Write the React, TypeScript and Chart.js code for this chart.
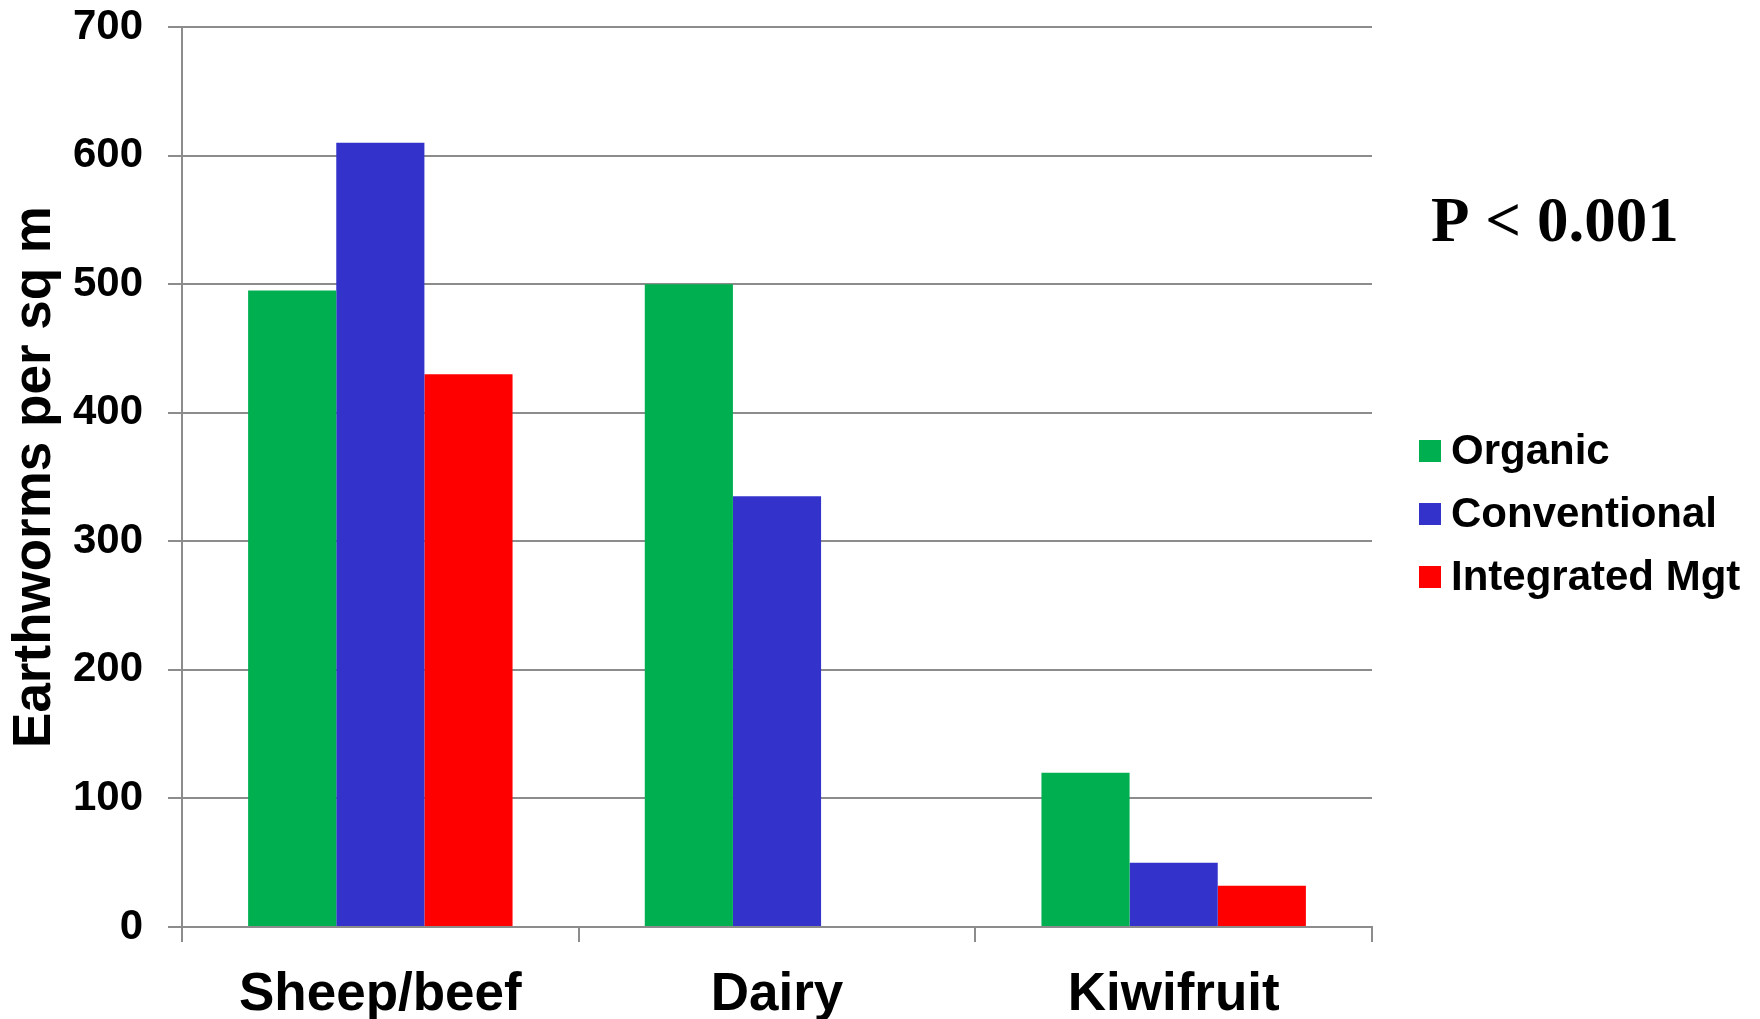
import React, { useEffect, useRef } from "react";
import { Chart, registerables } from "chart.js";

Chart.register(...registerables);

// Earthworm counts by farm type and management system
const categories = ["Sheep/beef", "Dairy", "Kiwifruit"];
const seriesNames = ["Organic", "Conventional", "Integrated Mgt"];
const organic = [495, 500, 120];
const conventional = [610, 335, 50];
const integratedMgt: (number | null)[] = [430, null, 32];
const seriesColors = ["#00B050", "#3333CC", "#FF0000"];
const yMin = 0;
const yMax = 700;
const yStep = 100;
const yTitle = "Earthworms per sq m";
const pValueText = "P < 0.001";

const SANS = '"Liberation Sans", Arial, sans-serif';
const SERIF = '"Liberation Serif", "Times New Roman", serif';
const GRID = "#8c8c8c";

// Draws the legend and the significance note in the right-hand margin
const sideNotes = {
  id: "sideNotes",
  afterDraw(chart: any) {
    const ctx = chart.ctx as CanvasRenderingContext2D;
    ctx.save();
    ctx.fillStyle = "#000";
    ctx.font = `bold 63px ${SERIF}`;
    ctx.textAlign = "left";
    ctx.textBaseline = "alphabetic";
    ctx.fillText(pValueText, 1431, 241);

    const boxX = 1419;
    const box = 22;
    const firstY = 451;
    const rowGap = 63;
    ctx.font = `bold 42px ${SANS}`;
    ctx.textBaseline = "middle";
    chart.data.datasets.forEach((ds: any, i: number) => {
      const cy = firstY + i * rowGap;
      ctx.fillStyle = ds.backgroundColor;
      ctx.fillRect(boxX, cy - box / 2, box, box);
      ctx.fillStyle = "#000";
      ctx.fillText(ds.label, 1451, cy + 1);
    });
    ctx.restore();
  },
};

export default function App() {
  const canvasRef = useRef<HTMLCanvasElement | null>(null);

  useEffect(() => {
    const canvas = canvasRef.current;
    if (!canvas) return;
    const series = [organic, conventional, integratedMgt];
    const chart = new Chart(canvas, {
      type: "bar",
      data: {
        labels: categories,
        datasets: series.map((values, i) => ({
          label: seriesNames[i],
          data: values,
          backgroundColor: seriesColors[i],
          borderWidth: 0,
          categoryPercentage: 2 / 3,
          barPercentage: 1,
        })),
      },
      options: {
        animation: false,
        responsive: false,
        devicePixelRatio: 1,
        layout: { padding: { top: 27, right: 388, left: 0, bottom: 0 } },
        plugins: {
          legend: { display: false },
          tooltip: { enabled: false },
        },
        scales: {
          x: {
            grid: {
              display: true,
              drawOnChartArea: false,
              drawTicks: true,
              tickLength: 15,
              color: GRID,
              lineWidth: 2,
              offset: true,
            },
            border: { display: true, color: GRID, width: 2 },
            ticks: {
              color: "#000",
              padding: 22,
              font: { family: SANS, size: 53, weight: "bold" },
              maxRotation: 0,
            },
            afterFit: (s: any) => {
              s.height = 92;
            },
          },
          y: {
            min: yMin,
            max: yMax,
            grid: {
              color: GRID,
              lineWidth: 2,
              drawTicks: true,
              tickLength: 14,
            },
            border: { display: true, color: GRID, width: 2 },
            ticks: {
              stepSize: yStep,
              color: "#000",
              padding: 25,
              font: { family: SANS, size: 42, weight: "bold" },
            },
            title: {
              display: true,
              text: yTitle,
              color: "#000",
              font: { family: SANS, size: 53, weight: "bold" },
              padding: { top: 4, bottom: 0 },
            },
            afterFit: (s: any) => {
              s.width = 182;
              s.paddingTop = 0;
              s.paddingBottom = 0;
            },
          },
        },
      },
      plugins: [sideNotes],
    } as any);
    return () => chart.destroy();
  }, []);

  return (
    <div style={{ position: "absolute", left: 0, top: 0, width: 1760, height: 1019, background: "#fff" }}>
      <canvas ref={canvasRef} width={1760} height={1019} />
    </div>
  );
}
